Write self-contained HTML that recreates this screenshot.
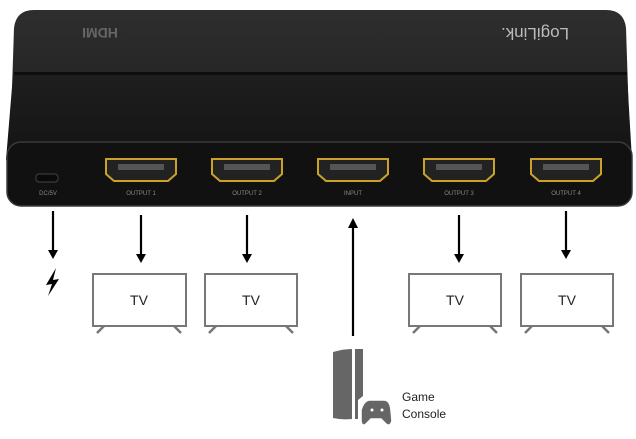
<!DOCTYPE html><html><head><style>
body{margin:0;width:636px;height:439px;background:#fff;overflow:hidden;position:relative;font-family:"Liberation Sans",sans-serif}
</style></head><body>
<svg width="636" height="439" viewBox="0 0 636 439" style="position:absolute;left:0;top:0">
<defs>
<linearGradient id="top" x1="0" y1="0" x2="0" y2="1"><stop offset="0" stop-color="#2e2e2e"/><stop offset="1" stop-color="#1d1d1d"/></linearGradient>
<linearGradient id="face" x1="0" y1="0" x2="0" y2="1"><stop offset="0" stop-color="#1e1e1e"/><stop offset="1" stop-color="#141414"/></linearGradient>
</defs>
<path d="M34 10 H606 Q624 10 626 28 L630 150 L10 150 L14 28 Q16 10 34 10Z" fill="url(#top)"/>
<rect x="14" y="72" width="613" height="3" fill="#0d0d0d"/>
<path d="M13 75 H627 L632 160 L6 160Z" fill="url(#face)"/>
<rect x="7" y="142" width="625" height="64" rx="14" fill="#111" stroke="#3a3a3a" stroke-width="1.5"/>
<text x="100" y="38" font-size="14" font-weight="bold" fill="#666" text-anchor="middle" transform="rotate(180 100 33)">HDMI</text>
<text x="535" y="40" font-size="17" fill="#bbb" text-anchor="middle" transform="rotate(180 535 34)">LogiLink.</text>
<rect x="36" y="174" width="22" height="8" rx="3" fill="#0a0a0a" stroke="#444"/>
<text x="48" y="195" font-size="6" fill="#888" text-anchor="middle">DC/5V</text>
<g fill="#222" stroke="#c9a227" stroke-width="2">
<path d="M106 159 H176 V174 L168 181 H114 L106 174Z"/>
<path d="M212 159 H282 V174 L274 181 H220 L212 174Z"/>
<path d="M318 159 H388 V174 L380 181 H326 L318 174Z"/>
<path d="M424 159 H494 V174 L486 181 H432 L424 174Z"/>
<path d="M531 159 H601 V174 L593 181 H539 L531 174Z"/>
</g>
<g fill="#555"><rect x="118" y="164" width="46" height="6"/><rect x="224" y="164" width="46" height="6"/><rect x="330" y="164" width="46" height="6"/><rect x="436" y="164" width="46" height="6"/><rect x="543" y="164" width="46" height="6"/></g>
<g font-size="6" fill="#888" text-anchor="middle">
<text x="141" y="195">OUTPUT 1</text><text x="247" y="195">OUTPUT 2</text><text x="353" y="195">INPUT</text><text x="459" y="195">OUTPUT 3</text><text x="566" y="195">OUTPUT 4</text>
</g>
<g stroke="#000" stroke-width="2.2">
<line x1="53" y1="211" x2="53" y2="252"/><line x1="141" y1="215" x2="141" y2="256"/><line x1="247" y1="215" x2="247" y2="256"/>
<line x1="353" y1="226" x2="353" y2="336"/><line x1="459" y1="215" x2="459" y2="256"/><line x1="566" y1="211" x2="566" y2="252"/>
</g>
<g fill="#000">
<path d="M48 250 H58 L53 259Z"/><path d="M136 254 H146 L141 263Z"/><path d="M242 254 H252 L247 263Z"/>
<path d="M348 228 H358 L353 218Z"/><path d="M454 254 H464 L459 263Z"/><path d="M561 250 H571 L566 259Z"/>
<path d="M56 268 L46 285 L52 284 L48 296 L59 279 L53 280Z"/>
</g>
<g stroke="#777" stroke-width="2" fill="#fff">
<rect x="93" y="274" width="93" height="52"/><rect x="205" y="274" width="92" height="52"/><rect x="409" y="274" width="92" height="52"/><rect x="521" y="274" width="92" height="52"/>
</g>
<g stroke="#777" stroke-width="2.5">
<path d="M97 333 L104 326 M181 333 L174 326"/><path d="M209 333 L216 326 M293 333 L286 326"/>
<path d="M413 333 L420 326 M497 333 L490 326"/><path d="M525 333 L532 326 M609 333 L602 326"/>
</g>
<g font-size="14" fill="#222" text-anchor="middle">
<text x="139" y="305">TV</text><text x="251" y="305">TV</text><text x="455" y="305">TV</text><text x="567" y="305">TV</text>
</g>
<path d="M333 352 Q343 349 352 349 V419 Q342 420 333 418Z" fill="#666"/>
<path d="M355 349 H363 V396 L358 400 V419 H355Z" fill="#666"/>
<path d="M361 410 Q364 400 370 400 H384 Q390 400 391 410 L392 421 Q390 428 385 423 L381 419 H371 L367 423 Q362 428 361 421Z" fill="#666" stroke="#fff" stroke-width="1.5"/>
<circle cx="372" cy="410" r="1.5" fill="#fff"/><circle cx="382" cy="410" r="1.5" fill="#fff"/>
<text x="402" y="401" font-size="12" fill="#222">Game</text>
<text x="402" y="418" font-size="12" fill="#222">Console</text>
</svg>
</body></html>
